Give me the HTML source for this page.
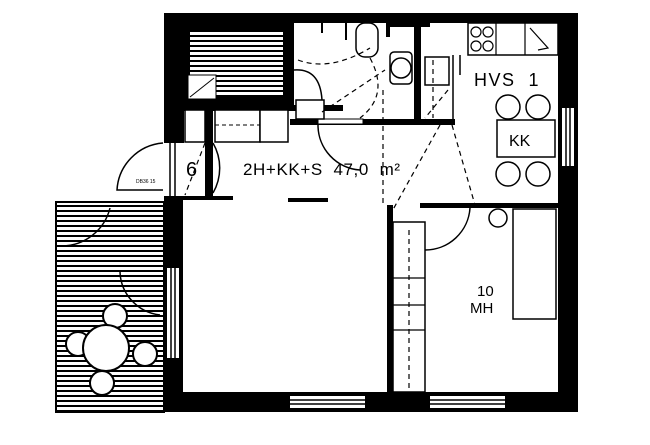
<!DOCTYPE html>
<html><head><style>body{margin:0;background:#fff}svg{display:block}text{font-family:"Liberation Sans",sans-serif;fill:#000;white-space:pre}</style></head>
<body>
<svg width="650" height="445" viewBox="0 0 650 445" xmlns="http://www.w3.org/2000/svg">
<defs>
<pattern id="h" width="6" height="5" patternUnits="userSpaceOnUse"><rect width="6" height="5" fill="#fff"/><rect y="0" width="6" height="2" fill="#000"/></pattern>
</defs>
<!-- balcony -->
<rect x="56" y="202" width="108" height="210" fill="url(#h)" stroke="#000" stroke-width="2"/>
<path d="M62 246 A50 50 0 0 0 110 208" fill="none" stroke="#000" stroke-width="1.5"/>
<path d="M120 270 A45 45 0 0 0 160 315" fill="none" stroke="#000" stroke-width="1.5"/>
<g fill="#fff" stroke="#000" stroke-width="2">
<circle cx="115" cy="316" r="12"/><circle cx="78" cy="344" r="12"/><circle cx="145" cy="354" r="12"/><circle cx="102" cy="383" r="12"/>
<circle cx="106" cy="348" r="23"/>
</g>
<!-- outer walls -->
<g fill="#000">
<rect x="164" y="13" width="414" height="10"/>
<rect x="164" y="13" width="20" height="130"/>
<rect x="164" y="196" width="19" height="216"/>
<rect x="164" y="392" width="414" height="20"/>
<rect x="558" y="13" width="20" height="399"/>
<rect x="164" y="13" width="130" height="97"/>
<rect x="183" y="105" width="160" height="6"/>
<rect x="290" y="119" width="165" height="6"/>
<rect x="414" y="23" width="7" height="100"/>
<rect x="386" y="23" width="44" height="4"/>
<rect x="386" y="23" width="4" height="14"/>
<rect x="183" y="196" width="50" height="4"/>
<rect x="288" y="198" width="40" height="4"/>
<rect x="387" y="205" width="6" height="187"/>
<rect x="420" y="203" width="140" height="5"/>
<rect x="205" y="108" width="8" height="90"/>
</g>
<rect x="318" y="119" width="45" height="5" fill="#fff" stroke="#000"/>
<rect x="190" y="30" width="93" height="67" fill="url(#h)"/>
<rect x="188" y="75" width="28" height="24" fill="#fff" stroke="#000"/>
<path d="M190 97 L214 78" stroke="#000"/>
<g fill="#fff" stroke="#000" stroke-width="1.5">
<rect x="185" y="110" width="20" height="32"/><rect x="215" y="110" width="45" height="32"/><rect x="260" y="110" width="28" height="32"/>
<rect x="296" y="100" width="28" height="19"/>
<rect x="356" y="23" width="22" height="34" rx="9"/>
<rect x="390" y="52" width="22" height="32" rx="4"/>
<circle cx="401" cy="68" r="10"/>
<rect x="425" y="57" width="24" height="28"/>
<rect x="393" y="222" width="32" height="170"/><rect x="513" y="209" width="43" height="110"/>
<rect x="468" y="23" width="90" height="32"/>
<rect x="497" y="120" width="58" height="37"/>
<circle cx="498" cy="218" r="9"/>
<circle cx="508" cy="107" r="12"/><circle cx="538" cy="107" r="12"/><circle cx="508" cy="174" r="12"/><circle cx="538" cy="174" r="12"/>
</g>
<g fill="none" stroke="#000" stroke-width="1.2">
<line x1="496" y1="23" x2="496" y2="55"/><line x1="525" y1="23" x2="525" y2="55"/>
<circle cx="476" cy="32" r="5"/><circle cx="488" cy="32" r="5"/><circle cx="476" cy="46" r="5"/><circle cx="488" cy="46" r="5"/>
<path d="M530 28 L548 48 L538 50"/>
<line x1="393" y1="278" x2="425" y2="278"/><line x1="393" y1="305" x2="425" y2="305"/><line x1="393" y1="330" x2="425" y2="330"/>
<line x1="322" y1="23" x2="322" y2="33" stroke-width="2"/><line x1="346" y1="23" x2="346" y2="40" stroke-width="2"/>
</g>
<path d="M215 125 H260" stroke="#000" stroke-dasharray="4 3"/>
<line x1="453" y1="55" x2="453" y2="125" stroke="#000" stroke-width="1.5"/>
<line x1="460" y1="55" x2="460" y2="75" stroke="#000" stroke-width="1.5"/>
<!-- windows -->
<g fill="#fff"><rect x="290" y="396" width="75" height="12"/><rect x="430" y="396" width="75" height="12"/><rect x="562" y="108" width="12" height="58"/><rect x="167" y="268" width="12" height="90"/><rect x="167" y="143" width="12" height="53"/></g>
<g stroke="#000" stroke-width="1.5"><line x1="290" y1="400" x2="365" y2="400"/><line x1="290" y1="404" x2="365" y2="404"/><line x1="430" y1="400" x2="505" y2="400"/><line x1="430" y1="404" x2="505" y2="404"/>
<line x1="566" y1="108" x2="566" y2="166"/><line x1="570" y1="108" x2="570" y2="166"/><line x1="171" y1="268" x2="171" y2="358"/><line x1="175" y1="268" x2="175" y2="358"/><line x1="170" y1="143" x2="170" y2="196"/><line x1="175" y1="143" x2="175" y2="196"/></g>
<!-- doors -->
<g fill="none" stroke="#000" stroke-width="1.5">
<path d="M163 143 A50 50 0 0 0 117 190 H163"/>
<path d="M213 143 A50 50 0 0 1 213 193"/>
<path d="M318 125 A45 45 0 0 0 360 170"/>
<path d="M294 70 Q320 68 322 100"/>
<path d="M425 250 A45 45 0 0 0 470 208"/>
</g>
<g fill="none" stroke="#000" stroke-width="1.2" stroke-dasharray="5 4">
<path d="M205 143 L185 195"/><path d="M298 60 Q330 72 370 48"/><path d="M322 112 L385 70"/><path d="M370 58 Q390 95 360 118"/>
<path d="M440 125 L390 215"/><path d="M452 125 L475 205"/><path d="M383 90 L383 205"/><path d="M409 230 V390"/><path d="M448 90 L425 118"/><path d="M433 60 L433 118"/>
</g>
<!-- text -->
<text x="186" y="176" font-size="20">6</text>
<text x="243" y="175" font-size="17" letter-spacing="0.6">2H+KK+S  47,0  m²</text>
<text x="474" y="86" font-size="18" letter-spacing="1.5">HVS  1</text>
<text x="509" y="146" font-size="16">KK</text>
<text x="477" y="296" font-size="15">10</text>
<text x="470" y="313" font-size="15">MH</text>
<text x="136" y="183" font-size="5">DB36 15</text>
</svg>
</body></html>
